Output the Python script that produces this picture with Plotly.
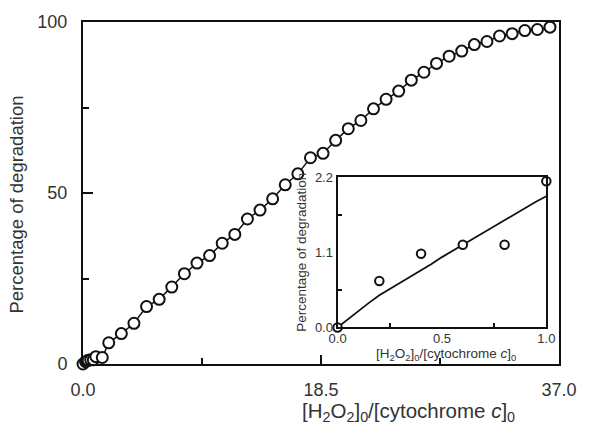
import plotly.graph_objects as go

# Main series: degradation (%) vs. [H2O2]0/[cytochrome c]0
ratio_main = [0.0, 0.2, 0.4, 0.6, 0.8, 1.0, 1.5,
              2.00, 2.98, 3.96, 4.94, 5.92, 6.90, 7.88, 8.86, 9.84, 10.82,
              11.80, 12.78, 13.76, 14.74, 15.72, 16.70, 17.68, 18.66, 19.64,
              20.62, 21.60, 22.58, 23.56, 24.54, 25.52, 26.50, 27.48, 28.46,
              29.44, 30.42, 31.40, 32.38, 33.36, 34.34, 35.32, 36.30]
degradation_main = [0.0, 0.68, 1.08, 1.21, 1.21, 2.14, 1.9,
                    6.2, 8.9, 11.9, 16.8, 18.9, 22.5, 26.4, 29.5, 31.7, 35.3,
                    37.9, 42.4, 45.0, 48.3, 52.4, 55.6, 60.3, 61.6, 65.4,
                    68.8, 71.2, 74.6, 77.4, 79.8, 83.0, 85.3, 87.9, 90.0,
                    91.5, 93.4, 94.3, 95.9, 96.6, 97.5, 97.8, 98.5]

# Inset: low-ratio measurements and model curve
ratio_inset = [0.0, 0.2, 0.4, 0.6, 0.8, 1.0]
degradation_inset = [0.0, 0.68, 1.08, 1.21, 1.21, 2.14]
ratio_model = [0.0, 0.05, 0.10, 0.15, 0.20, 0.25, 0.30, 0.35, 0.40, 0.45, 0.50,
               0.55, 0.60, 0.65, 0.70, 0.75, 0.80, 0.85, 0.90, 0.95, 1.00]
degradation_model = [0.0, 0.12, 0.25, 0.36, 0.47, 0.56, 0.66, 0.75, 0.84, 0.93,
                     1.03, 1.12, 1.21, 1.30, 1.40, 1.49, 1.58, 1.66, 1.75, 1.84, 1.92]

main_xticks = [0.0, 18.5, 37.0]
main_xticktext = ["0.0", "18.5", "37.0"]
main_xminor = [9.25, 27.75]
main_yticks = [0, 50, 100]
main_yminor = [25, 75]
inset_xticks = [0.0, 0.5, 1.0]
inset_xticktext = ["0.0", "0.5", "1.0"]
inset_xminor = [0.25, 0.75]
inset_yticks = [0.0, 1.1, 2.2]
inset_yticktext = ["0.0", "1.1", "2.2"]
inset_yminor = [0.55, 1.65]

INK = "#111111"
TEXT = "#333333"
FONT = "Liberation Sans, Arial, sans-serif"

fig = go.Figure()

fig.add_trace(go.Scatter(
    x=ratio_main, y=degradation_main, mode="lines+markers",
    line=dict(color=INK, width=1.5),
    marker=dict(symbol="circle", size=11, color="white",
                line=dict(color=INK, width=2)),
    cliponaxis=False, xaxis="x", yaxis="y", showlegend=False))

fig.add_trace(go.Scatter(
    x=ratio_model, y=degradation_model, mode="lines",
    line=dict(color=INK, width=1.8),
    cliponaxis=False, xaxis="x2", yaxis="y2", showlegend=False))

fig.add_trace(go.Scatter(
    x=ratio_inset, y=degradation_inset, mode="markers",
    marker=dict(symbol="circle", size=8.5, color="white",
                line=dict(color=INK, width=2)),
    cliponaxis=False, xaxis="x2", yaxis="y2", showlegend=False))

axis_common = dict(showgrid=False, zeroline=False, showline=True,
                   linecolor=INK, linewidth=2, mirror=True,
                   ticks="inside", tickcolor=INK, tickwidth=1.5)

fig.update_layout(
    width=589, height=430,
    margin=dict(l=83, r=18, t=18, b=66),
    paper_bgcolor="white", plot_bgcolor="white",
    font=dict(family=FONT, color=TEXT),
    xaxis=dict(**axis_common, domain=[0, 1], range=[0, 37],
               tickvals=main_xticks, ticktext=main_xticktext, ticklen=9,
               tickfont=dict(size=18, color=TEXT), ticklabelstandoff=8,
               minor=dict(tickvals=main_xminor, ticks="inside", ticklen=6,
                          tickcolor=INK, tickwidth=1.5)),
    yaxis=dict(**axis_common, domain=[0, 1], range=[0, 100],
               tickvals=main_yticks, ticklen=10,
               tickfont=dict(size=18, color=TEXT), ticklabelstandoff=10,
               minor=dict(tickvals=main_yminor, ticks="inside", ticklen=6,
                          tickcolor=INK, tickwidth=1.5)),
    xaxis2=dict(**axis_common, domain=[0.5348, 0.9734], range=[0, 1],
                anchor="y2", tickvals=inset_xticks, ticktext=inset_xticktext,
                ticklen=0, tickfont=dict(size=13, color=TEXT),
                ticklabelstandoff=-2,
                minor=dict(tickvals=inset_xminor, ticks="inside", ticklen=4,
                           tickcolor=INK, tickwidth=1.5)),
    yaxis2=dict(**axis_common, domain=[0.1069, 0.5462], range=[0, 2.2],
                anchor="x2", tickvals=inset_yticks, ticktext=inset_yticktext,
                ticklen=0, tickfont=dict(size=13, color=TEXT),
                ticklabelstandoff=0,
                minor=dict(tickvals=inset_yminor, ticks="inside", ticklen=4,
                           tickcolor=INK, tickwidth=1.5)),
)

# Axis titles
fig.add_annotation(
    text="[H<sub>2</sub>O<sub>2</sub>]<sub>0</sub>/[cytochrome <i>c</i>]<sub>0</sub>",
    xref="paper", yref="paper", x=(417 - 83) / 488, y=-(413 - 364) / 346,
    xanchor="center", yanchor="middle", showarrow=False,
    font=dict(size=20.5, color=TEXT))
fig.add_annotation(
    text="Percentage of degradation", textangle=-90,
    xref="paper", yref="paper", x=(15 - 83) / 488, y=(364 - 203) / 346,
    xanchor="center", yanchor="middle", showarrow=False,
    font=dict(size=18.5, color=TEXT))
fig.add_annotation(
    text="[H<sub>2</sub>O<sub>2</sub>]<sub>0</sub>/[cytochrome <i>c</i>]<sub>0</sub>",
    xref="paper", yref="paper", x=(455 - 83) / 488, y=-(354 - 364) / 346,
    xanchor="center", yanchor="middle", showarrow=False,
    font=dict(size=13.5, color=TEXT))
fig.add_annotation(
    text="Percentage of degradation", textangle=-90,
    xref="paper", yref="paper", x=(307 - 83) / 488, y=(364 - 251) / 346,
    xanchor="center", yanchor="middle", showarrow=False,
    font=dict(size=13.5, color=TEXT))

fig.write_html("out.html")
